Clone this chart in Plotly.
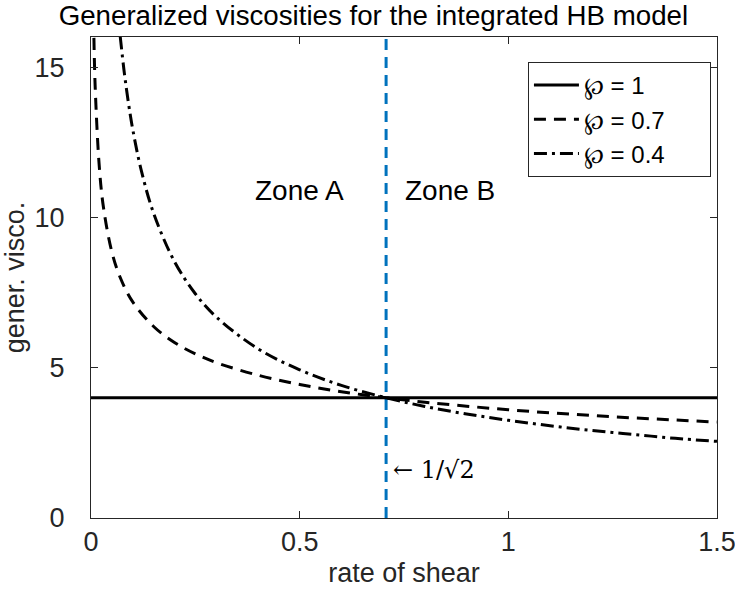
import plotly.graph_objects as go

# ---- data ----
x_crit = 0.7071  # 1/sqrt(2)

x_p1 = [0.0, 1.5]
y_p1 = [4.0, 4.0]

x_p07 = [0.007, 0.01, 0.02, 0.03, 0.05, 0.07, 0.1, 0.15, 0.2, 0.25, 0.3, 0.4, 0.5, 0.6,
         0.7071, 0.8, 0.9, 1.0, 1.1, 1.2, 1.3, 1.4, 1.5]
y_p07 = [15.97, 14.35, 11.66, 10.32, 8.85, 8.00, 7.19, 6.37, 5.84, 5.46, 5.17, 4.75, 4.44, 4.20,
         4.00, 3.85, 3.72, 3.60, 3.50, 3.41, 3.33, 3.26, 3.19]

x_p04 = [0.07, 0.08, 0.09, 0.1, 0.12, 0.15, 0.2, 0.25, 0.3, 0.4, 0.5, 0.6,
         0.7071, 0.8, 0.9, 1.0, 1.1, 1.2, 1.3, 1.4, 1.5]
y_p04 = [16.02, 14.79, 13.78, 12.93, 11.59, 10.14, 8.53, 7.46, 6.69, 5.63, 4.93, 4.41,
         4.00, 3.71, 3.46, 3.25, 3.07, 2.91, 2.78, 2.65, 2.55]

x_ticks = [0, 0.5, 1, 1.5]
x_tick_text = ["0", "0.5", "1", "1.5"]
y_ticks = [0, 5, 10, 15]
y_tick_text = ["0", "5", "10", "15"]

legend_names = ["℘ = 1", "℘ = 0.7", "℘ = 0.4"]

FONT = "Liberation Sans, Arial, Helvetica, sans-serif"
AX = "#262626"
FS = 27
PAD = "\u00a0" * 6

fig = go.Figure()

fig.add_trace(go.Scatter(x=[x_crit, x_crit], y=[0, 16], mode="lines",
                         line=dict(color="#0072BD", width=3, dash="11px,7px"),
                         showlegend=False, hoverinfo="skip"))

fig.add_trace(go.Scatter(x=x_p1, y=y_p1, mode="lines", name=legend_names[0] + PAD,
                         line=dict(color="black", width=3)))
fig.add_trace(go.Scatter(x=x_p07, y=y_p07, mode="lines", name=legend_names[1] + PAD,
                         line=dict(color="black", width=3, dash="12px,8px", shape="spline")))
fig.add_trace(go.Scatter(x=x_p04, y=y_p04, mode="lines", name=legend_names[2] + PAD,
                         line=dict(color="black", width=3, dash="13px,5px,3px,5px", shape="spline")))

fig.add_annotation(x=0.5, y=10.9, text="Zone A", showarrow=False,
                   font=dict(family=FONT, size=28, color="black"))
fig.add_annotation(x=0.861, y=10.9, text="Zone B", showarrow=False,
                   font=dict(family=FONT, size=28, color="black"))
fig.add_annotation(x=0.72, y=1.6, text="← 1/√2", showarrow=False, xanchor="left",
                   font=dict(family="DejaVu Serif, Liberation Serif, serif", size=24, color="black"))

axis_common = dict(
    showgrid=False, zeroline=False, showline=True, linecolor=AX, linewidth=1,
    mirror="ticks", ticks="inside", ticklen=7, tickcolor=AX, tickwidth=1,
    tickfont=dict(family=FONT, size=FS, color=AX), ticklabeloverflow="allow",
    automargin=False,
)

fig.update_layout(
    width=735, height=599,
    margin=dict(l=91, r=18, t=37, b=81),
    paper_bgcolor="white", plot_bgcolor="white",
    title=dict(text="Generalized viscosities for the integrated HB model",
               x=0.508, xref="container", xanchor="center",
               y=0.975, yref="container", yanchor="middle",
               font=dict(family=FONT, size=27.7, color="black")),
    xaxis=dict(range=[0, 1.5], tickvals=x_ticks, ticktext=x_tick_text,
               title=dict(text="rate of shear", standoff=6,
                          font=dict(family=FONT, size=FS, color=AX)),
               **axis_common),
    yaxis=dict(range=[0, 16], tickvals=y_ticks, ticktext=y_tick_text,
               ticklabelstandoff=20,
               title=dict(text="gener. visco.", standoff=8,
                          font=dict(family=FONT, size=FS, color=AX)),
               **axis_common),
    legend=dict(x=0.698, y=0.948, xanchor="left", yanchor="top",
                bgcolor="white", bordercolor=AX, borderwidth=1,
                font=dict(family=FONT, size=24, color="black"),
                itemwidth=45, tracegroupgap=0),
    showlegend=True,
)

fig.write_html("out.html", config={"displayModeBar": False},
               post_script="document.body.style.margin='0';document.body.style.overflow='hidden';")
